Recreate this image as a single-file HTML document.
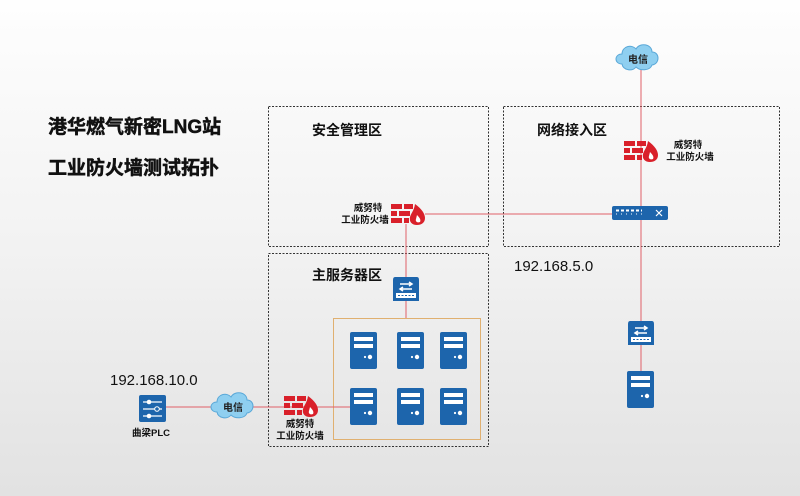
<!DOCTYPE html>
<html><head><meta charset="utf-8"><style>
body{margin:0;width:800px;height:496px;overflow:hidden;background:linear-gradient(#fefefe,#f2f2f2 50%,#e2e2e2);}
svg{display:block;font-family:"Liberation Sans","Noto Sans CJK SC",sans-serif;}
</style></head><body>
<svg width="800" height="496" viewBox="0 0 800 496">
<defs>
<g id="fw">
<rect x="0" y="0" width="11" height="5" fill="#d9202a"/><rect x="13" y="0" width="9" height="5" fill="#d9202a"/>
<rect x="0" y="7" width="6" height="5" fill="#d9202a"/><rect x="8" y="7" width="11" height="5" fill="#d9202a"/>
<rect x="0" y="14" width="11" height="5" fill="#d9202a"/><rect x="13" y="14" width="5" height="5" fill="#d9202a"/>
<path d="M24 0 C31 5 34 10 34 14 C34 19 30 21 26 21 C21 21 18 18 19 13 C20 9 23 7 24 0 Z" fill="#d9202a"/>
<path d="M26 11 C29 14 30 16 29 18 C27 19 24 18 25 15 Z" fill="#fff"/>
</g>
<g id="srv">
<rect x="0" y="0" width="27" height="37" rx="2" fill="#1d65ac"/>
<rect x="4" y="5" width="19" height="4" fill="#fff"/><rect x="4" y="12" width="19" height="4" fill="#fff"/>
<circle cx="20" cy="25" r="2.2" fill="#fff"/><circle cx="15" cy="25" r="1.1" fill="#fff"/>
</g>
<g id="l3">
<path d="M2 0 H24 Q26 0 26 3 V24 H0 V3 Q0 0 2 0Z" fill="#1d65ac"/>
<path d="M7 7 H19 M16 5 L19 7 L16 9 M19 12 H7 M10 10 L7 12 L10 14" stroke="#fff" stroke-width="1.5" fill="none"/>
<rect x="3" y="16" width="20" height="5" fill="#fff"/>
<path d="M5 18.5 H21" stroke="#1d65ac" stroke-dasharray="2 1.5"/>
</g>
<g id="cloud">
<path d="M-16 6 C-24 6 -24 -4 -16 -4 C-16 -12 -6 -14 -2 -9 C2 -16 14 -14 14 -6 C22 -6 22 6 14 7 C12 13 2 13 -2 9 C-6 14 -15 12 -16 6 Z" fill="#8fcff0" stroke="#5aa8d8" stroke-width="1"/>
</g>
</defs>
<g font-weight="bold" fill="#111" font-size="19" stroke="#111" stroke-width="0.5">
<text x="48" y="133">港华燃气新密LNG站</text>
<text x="48" y="174">工业防火墙测试拓扑</text>
</g>
<g fill="none" stroke="#333" stroke-dasharray="2 1.5" stroke-width="1">
<rect x="268.5" y="106.5" width="220" height="140"/>
<rect x="503.5" y="106.5" width="276" height="140"/>
<rect x="268.5" y="253.5" width="220" height="193"/>
</g>
<rect x="333.5" y="318.5" width="147" height="121" fill="none" stroke="#e0b070" stroke-width="1"/>
<g stroke="#e06068" stroke-width="1" fill="none">
<path d="M641 70 V395"/>
<path d="M425 214 H612"/>
<path d="M406 224 V318"/>
<path d="M166 407 H350"/>
</g>
<g font-weight="bold" fill="#111" font-size="14">
<text x="312" y="135">安全管理区</text>
<text x="537" y="135">网络接入区</text>
<text x="312" y="280">主服务器区</text>
</g>
<g fill="#111" font-size="15">
<text x="110" y="385">192.168.10.0</text>
<text x="514" y="271">192.168.5.0</text>
</g>
<g font-size="9.5" fill="#111" text-anchor="middle" font-weight="bold">
<text x="368" y="211">威努特</text><text x="365" y="223">工业防火墙</text>
<text x="688" y="148">威努特</text><text x="690" y="160">工业防火墙</text>
<text x="300" y="427">威努特</text><text x="300" y="439">工业防火墙</text>
<text x="151" y="436">曲梁PLC</text>
</g>
<use href="#fw" x="391" y="204"/>
<use href="#fw" x="624" y="141"/>
<use href="#fw" x="284" y="396"/>
<rect x="612" y="206" width="56" height="14" rx="2" fill="#1d65ac"/>
<path d="M616 210.5 H642" stroke="#fff" stroke-width="2" stroke-dasharray="3 2"/>
<path d="M616 214 H642" stroke="#fff" stroke-width="1" stroke-dasharray="1 4"/>
<path d="M656 210 L662 216 M656 216 L662 210" stroke="#fff" stroke-width="1.2"/>
<use href="#l3" x="393" y="277"/>
<use href="#l3" x="628" y="321"/>
<use href="#srv" x="350" y="332"/><use href="#srv" x="397" y="332"/><use href="#srv" x="440" y="332"/>
<use href="#srv" x="350" y="388"/><use href="#srv" x="397" y="388"/><use href="#srv" x="440" y="388"/>
<use href="#srv" x="627" y="371"/>
<rect x="139" y="395" width="27" height="27" rx="2" fill="#1d65ac"/>
<path d="M143 402 H162 M143 409 H162 M143 416 H162" stroke="#fff" stroke-width="1.2"/>
<circle cx="149" cy="402" r="2.3" fill="#fff"/><circle cx="157" cy="409" r="2.3" fill="#1d65ac" stroke="#fff"/><circle cx="149" cy="416" r="2.3" fill="#fff"/>
<use href="#cloud" x="638" y="58"/>
<use href="#cloud" x="233" y="406"/>
<g font-size="10" fill="#222" text-anchor="middle" font-weight="bold">
<text x="638" y="63">电信</text>
<text x="233" y="411">电信</text>
</g>
</svg>
</body></html>
